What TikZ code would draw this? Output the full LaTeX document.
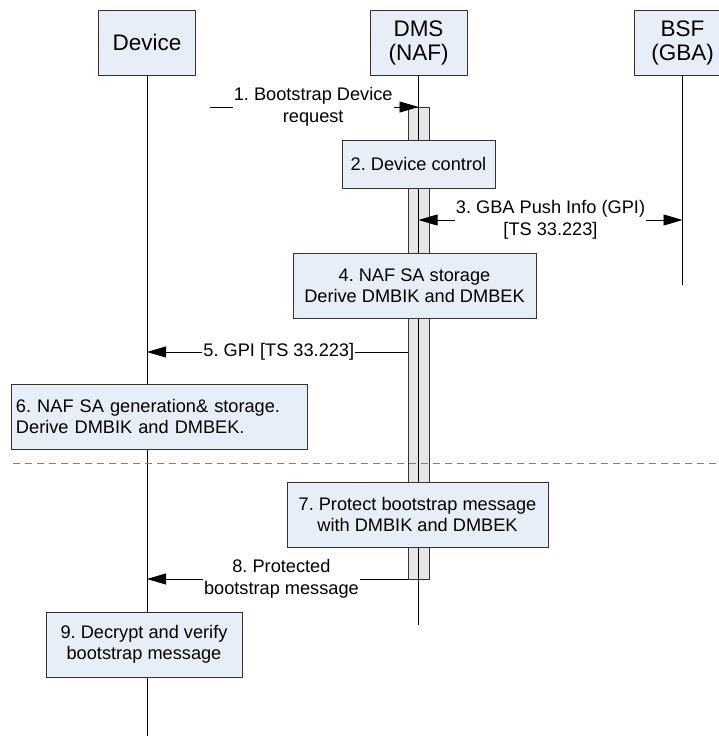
\documentclass[tikz,border=0pt]{standalone}
\usepackage{fontspec}
\setmainfont{Liberation Sans}
\usetikzlibrary{arrows.meta}
\definecolor{boxfill}{RGB}{232,238,248}
\definecolor{barfill}{RGB}{230,230,230}
\frenchspacing
\begin{document}
\begin{tikzpicture}[x=1pt,y=-1pt,
  head/.style={draw=black!80,fill=boxfill,line width=0.8pt,minimum width=97pt,minimum height=65pt,align=center,font=\fontsize{22.5}{24}\selectfont,inner sep=0pt},
  actbox/.style={draw=black!80,fill=boxfill,line width=0.8pt,align=center,font=\fontsize{18.2}{21.5}\selectfont,inner sep=0pt},
  msglabel/.style={fill=white,align=center,font=\fontsize{18.2}{21.5}\selectfont,inner sep=1pt},
  lifeline/.style={draw=black,line width=0.8pt},
  msg/.style={draw=black,line width=0.8pt,-{Triangle[length=19pt,width=11pt]}},
  bimsg/.style={draw=black,line width=0.8pt,{Triangle[length=19pt,width=11pt]}-{Triangle[length=19pt,width=11pt]}},
  actbar/.style={draw=black!80,fill=barfill,line width=0.8pt},
  sep/.style={draw=black!50,line width=0.9pt,dash pattern=on 7pt off 5pt}]
\useasboundingbox (0,0) rectangle (719,736);
\clip (0,0) rectangle (719,736);
\fill[white] (0,0) rectangle (719,736);
% headers
\node[head] (dev) at (147,42.5) {Device};
\node[head] (dms) at (418.5,42.5) {DMS\\(NAF)};
\node[head] (bsf) at (682.5,42.5) {BSF\\(GBA)};
% lifeline ends
\coordinate (devend) at (147,736);
\coordinate (dmsend) at (418.5,625);
\coordinate (bsfend) at (682.5,285);
% activation bar
\node[actbar,minimum width=21pt,minimum height=472pt,inner sep=0pt,anchor=north] (bar) at (418.5,107) {};
% lifelines
\draw[lifeline] (dev.south) -- (devend);
\draw[lifeline] (dms.south) -- (dmsend);
\draw[lifeline] (bsf.south) -- (bsfend);
% separator
\coordinate (sepL) at (13,463);
\coordinate (sepR) at (719,463);
\draw[sep] (sepL) -- (sepR);
% message 1
\coordinate (m1s) at (210,107);
\coordinate (m1e) at (418.5,107);
\draw[msg] (m1s) -- node[msglabel,pos=0.495] (l1) {1. Bootstrap Device\\request} (m1e);
% box 2
\node[actbox,minimum width=153pt,minimum height=48pt] (b2) at (418.5,164) {2. Device control};
% message 3
\coordinate (m3s) at (418.5,220);
\coordinate (m3e) at (682.5,220);
\draw[bimsg] (m3s) -- node[msglabel,pos=0.5] (l3) {3. GBA Push Info (GPI)\\{[}TS 33.223{]}} (m3e);
% box 4
\node[actbox,minimum width=243pt,minimum height=65pt] (b4) at (414.5,285.5) {4. NAF SA storage\\Derive DMBIK and DMBEK};
% message 5
\coordinate (m5s) at (408,352);
\coordinate (m5e) at (147,352);
\draw[msg] (m5s) -- node[msglabel,pos=0.495] (l5) {5. GPI {[}TS 33.223{]}} (m5e);
% box 6
\node[actbox,align=left,minimum width=296pt,minimum height=65pt,text width=286pt] (b6) at (159,416.5) {6. NAF SA generation\& storage.\\Derive DMBIK and DMBEK.};
% box 7
\node[actbox,minimum width=261pt,minimum height=65pt] (b7) at (417.5,514.5) {7. Protect bootstrap message\\with DMBIK and DMBEK};
% message 8
\coordinate (m8s) at (408,579);
\coordinate (m8e) at (147,579);
\draw[msg] (m8s) -- node[msglabel,pos=0.485] (l8) {8. Protected\\bootstrap message} (m8e);
% box 9
\node[actbox,minimum width=196pt,minimum height=65pt] (b9) at (144,644.5) {9. Decrypt and verify\\bootstrap message};
\end{tikzpicture}
\end{document}
